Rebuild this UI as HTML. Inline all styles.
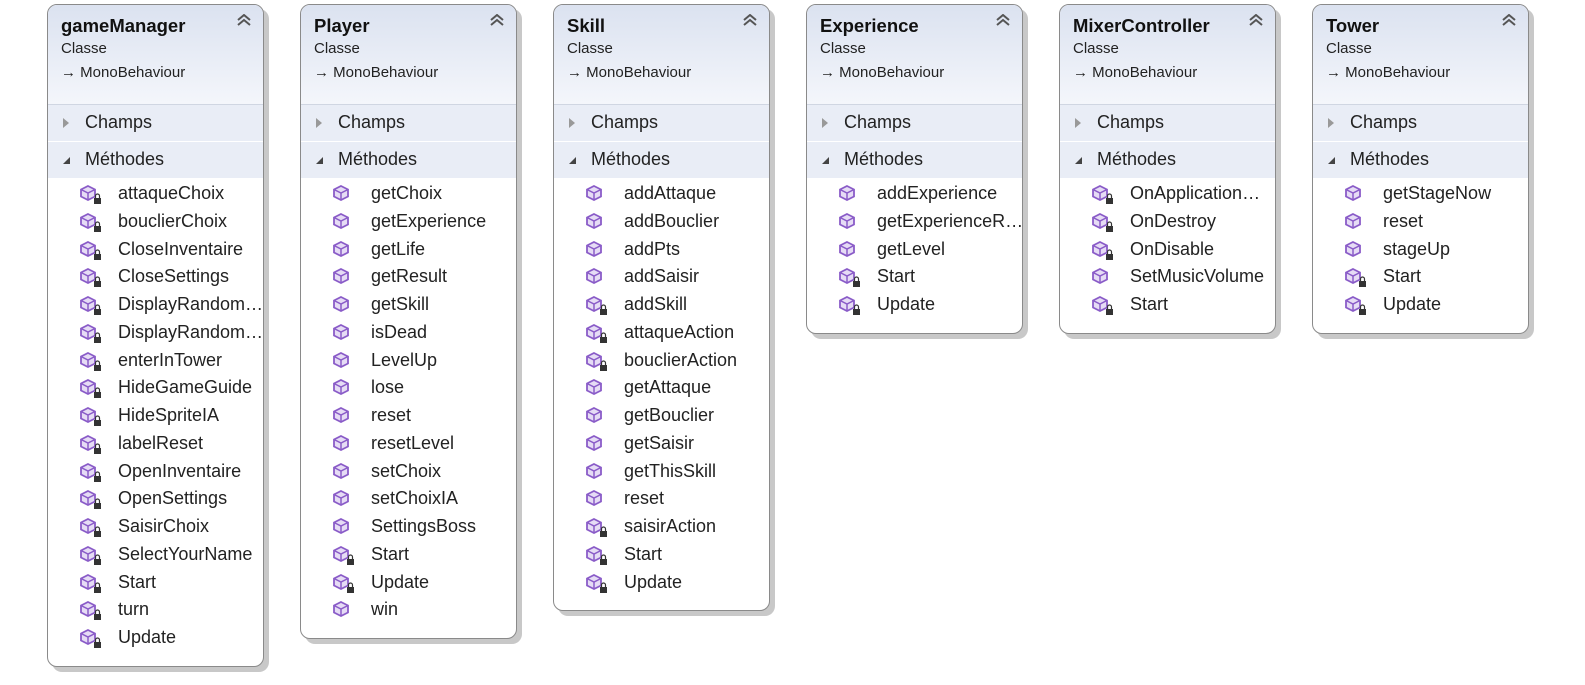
<!DOCTYPE html>
<html><head><meta charset="utf-8"><style>
body{margin:0;width:1585px;height:685px;background:#fff;position:relative;overflow:hidden;font-family:"Liberation Sans",sans-serif;}
.box{position:absolute;top:4px;width:215px;border:1px solid #8a8a8a;border-radius:10px;background:#fff;box-shadow:5px 5px 0 #c8c8c8;overflow:hidden;}
.hd{height:99px;background:linear-gradient(#dbe2f0,#f4f6fb);border-bottom:1px solid #d0d6e2;position:relative;}
.t{position:absolute;left:13px;top:10px;font-weight:bold;font-size:18.5px;color:#111;}
.c{position:absolute;left:13px;top:35px;font-size:15px;color:#222;}
.m{position:absolute;left:13px;top:59px;font-size:15px;color:#222;}
.up{position:absolute;right:12px;top:9px;}
.sec{height:36px;background:#e9edf6;border-bottom:1px solid #fff;position:relative;font-size:18px;color:#222;}
.sec span{position:absolute;left:37px;top:7px;}
.sec i{position:absolute;left:15px;top:13px;width:0;height:0;font-style:normal;}
.tri1{border-left:6px solid #999;border-top:5px solid transparent;border-bottom:5px solid transparent;}
.tri2{border-right:7px solid #444;border-top:7px solid transparent;top:15px!important;}
.items{padding-top:1px;padding-bottom:14px;}
.it{height:27.75px;line-height:27.75px;position:relative;font-size:18px;color:#222;padding-left:70px;white-space:nowrap;}
.ic{position:absolute;left:32px;top:5px;}
</style></head><body>
<script>
const P=0,L=1;
const data=[
[47,"gameManager",[["attaqueChoix",L],["bouclierChoix",L],["CloseInventaire",L],["CloseSettings",L],["DisplayRandom…",L],["DisplayRandom…",L],["enterInTower",L],["HideGameGuide",L],["HideSpriteIA",L],["labelReset",L],["OpenInventaire",L],["OpenSettings",L],["SaisirChoix",L],["SelectYourName",L],["Start",L],["turn",L],["Update",L]]],
[300,"Player",[["getChoix",P],["getExperience",P],["getLife",P],["getResult",P],["getSkill",P],["isDead",P],["LevelUp",P],["lose",P],["reset",P],["resetLevel",P],["setChoix",P],["setChoixIA",P],["SettingsBoss",P],["Start",L],["Update",L],["win",P]]],
[553,"Skill",[["addAttaque",P],["addBouclier",P],["addPts",P],["addSaisir",P],["addSkill",L],["attaqueAction",L],["bouclierAction",L],["getAttaque",P],["getBouclier",P],["getSaisir",P],["getThisSkill",P],["reset",P],["saisirAction",L],["Start",L],["Update",L]]],
[806,"Experience",[["addExperience",P],["getExperienceR…",P],["getLevel",P],["Start",L],["Update",L]]],
[1059,"MixerController",[["OnApplication…",L],["OnDestroy",L],["OnDisable",L],["SetMusicVolume",P],["Start",L]]],
[1312,"Tower",[["getStageNow",P],["reset",P],["stageUp",P],["Start",L],["Update",L]]]];
const icon=(l)=>`<svg class="ic" width="22" height="20" viewBox="0 0 22 20"><polygon points="8,1 15,4.5 15,11.5 8,15 1,11.5 1,4.5" fill="#e6dcf5" stroke="#8a5cc8" stroke-width="1.8"/><path d="M1,4.5 L8,8 L15,4.5 M8,8 L8,15" stroke="#8a5cc8" stroke-width="1.5" fill="none"/>${l?'<rect x="14" y="13" width="7" height="6" fill="#333"/><path d="M15.5,13 v-2 a2,2 0 0 1 4,0 v2" stroke="#333" stroke-width="1.2" fill="none"/>':''}</svg>`;
const chev=`<svg class="up" width="14" height="12" viewBox="0 0 14 12"><path d="M1,6 L7,1 L13,6 M1,11 L7,6 L13,11" stroke="#555" stroke-width="2" fill="none"/></svg>`;
let h='';
for(const [x,n,its] of data){
h+=`<div class="box" style="left:${x}px"><div class="hd"><div class="t">${n}</div>${chev}<div class="c">Classe</div><div class="m">&#x2192; MonoBehaviour</div></div>
<div class="sec"><i class="tri1"></i><span>Champs</span></div><div class="sec"><i class="tri2"></i><span>Méthodes</span></div><div class="items">`;
for(const [t,l] of its)h+=`<div class="it">${icon(l)}${t}</div>`;
h+='</div></div>';}
document.write(h);
</script>
</body></html>
